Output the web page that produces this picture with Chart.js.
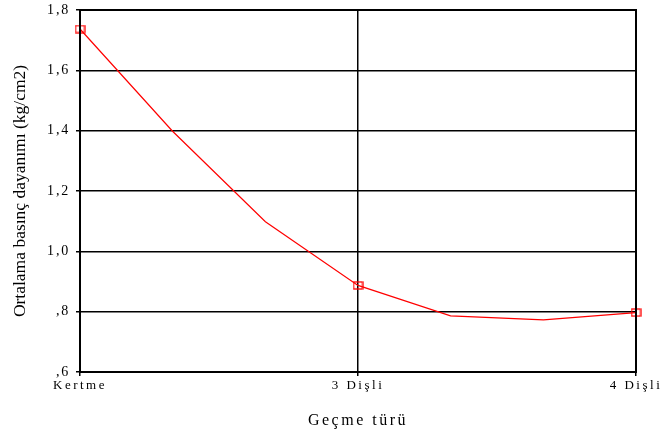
<!DOCTYPE html>
<html>
<head>
<meta charset="utf-8">
<script src="https://cdn.jsdelivr.net/npm/chart.js"></script>
<style>
  html, body { margin: 0; padding: 0; background: #fff; }
  #wrap { width: 661px; height: 440px; }
</style>
</head>
<body>
<div id="wrap"><canvas id="myChart" width="661" height="440"></canvas></div>
<script>
// categories on the x axis (at x = 0, 1, 2)
const categories = ['Kertme', '3 Dişli', '4 Dişli'];
// interpolated curve points
const curveX = [0, 0.333, 0.667, 1, 1.333, 1.667, 2];
const curveY = [1.737, 1.398, 1.098, 0.887, 0.786, 0.773, 0.797];
// which curve points carry a marker (the category means)
const markerIdx = [0, 3, 6];
const yTickLabels = [',6', ',8', '1,0', '1,2', '1,4', '1,6', '1,8'];

// hollow red square marker
const marker = document.createElement('canvas');
marker.width = 11; marker.height = 9;
(function () {
    const c = marker.getContext('2d');
    c.strokeStyle = '#ff0000';
    c.lineWidth = 1.3;
    c.strokeRect(1, 1, 9, 7);
})();

const serif = "'Liberation Serif', 'Times New Roman', serif";

// the original prints its labels a bit spread out
const spacing = { x: { labels: '2.5px', title: '2.5px' }, y: { labels: '1.8px', title: '0px' } };

const spacingPlugin = {
    id: 'spacing',
    beforeDraw(chart) {
        Object.keys(spacing).forEach(id => {
            const s = chart.scales[id];
            if (!s || s._spaced) return;
            s._spaced = true;
            ['drawLabels', 'drawTitle'].forEach(fn => {
                const orig = s[fn];
                const key = fn === 'drawLabels' ? 'labels' : 'title';
                s[fn] = function () {
                    const c = this.ctx;
                    c.save();
                    c.letterSpacing = spacing[id][key];
                    orig.apply(this, arguments);
                    c.restore();
                };
            });
        });
    }
};

// frame round the plot area
const framePlugin = {
    id: 'frame',
    afterDraw(chart) {
        const { ctx, chartArea: a } = chart;
        ctx.save();
        ctx.strokeStyle = '#000';
        ctx.lineWidth = 2;
        ctx.strokeRect(a.left, a.top, a.right - a.left, a.bottom - a.top);
        ctx.restore();
    }
};

const ctx = document.getElementById('myChart').getContext('2d');
new Chart(ctx, {
    type: 'line',
    data: {
        datasets: [{
            data: curveX.map((x, i) => ({ x: x, y: curveY[i] })),
            borderColor: '#ff0000',
            borderWidth: 1.2,
            tension: 0,
            fill: false,
            clip: false,
            pointStyle: (c) => markerIdx.includes(c.dataIndex) ? marker : 'circle',
            pointRadius: (c) => markerIdx.includes(c.dataIndex) ? 5 : 0,
            pointHoverRadius: (c) => markerIdx.includes(c.dataIndex) ? 5 : 0
        }]
    },
    options: {
        responsive: false,
        animation: false,
        layout: { padding: { top: 10, right: 25, left: 0, bottom: 0 } },
        plugins: { legend: { display: false }, tooltip: { enabled: false } },
        scales: {
            x: {
                type: 'linear',
                min: 0, max: 2,
                afterFit: (s) => { s.height = 68; },
                afterBuildTicks: (s) => { s.ticks = categories.map((c, i) => ({ value: i })); },
                ticks: {
                    callback: (v) => categories[v],
                    color: '#000',
                    font: { family: serif, size: 13 },
                    padding: 2,
                    maxRotation: 0,
                    autoSkip: false
                },
                grid: { color: '#000', lineWidth: 1.5, tickLength: 4 },
                border: { color: '#000', width: 2 },
                title: {
                    display: true,
                    text: 'Geçme türü',
                    color: '#000',
                    font: { family: serif, size: 16 },
                    padding: { top: 0, bottom: 10 }
                }
            },
            y: {
                min: 0.6, max: 1.8,
                afterFit: (s) => { s.width = 80; },
                ticks: {
                    stepSize: 0.2,
                    callback: (v, i) => yTickLabels[i],
                    color: '#000',
                    font: { family: serif, size: 14, lineHeight: 0.5 },
                    padding: 6
                },
                grid: { color: '#000', lineWidth: 1.5, tickLength: 4 },
                border: { color: '#000', width: 2 },
                title: {
                    display: true,
                    text: 'Ortalama basınç dayanımı (kg/cm2)',
                    color: '#000',
                    font: { family: serif, size: 17.5 },
                    padding: { top: 10, bottom: 0 }
                }
            }
        }
    },
    plugins: [spacingPlugin, framePlugin]
});
</script>
</body>
</html>
